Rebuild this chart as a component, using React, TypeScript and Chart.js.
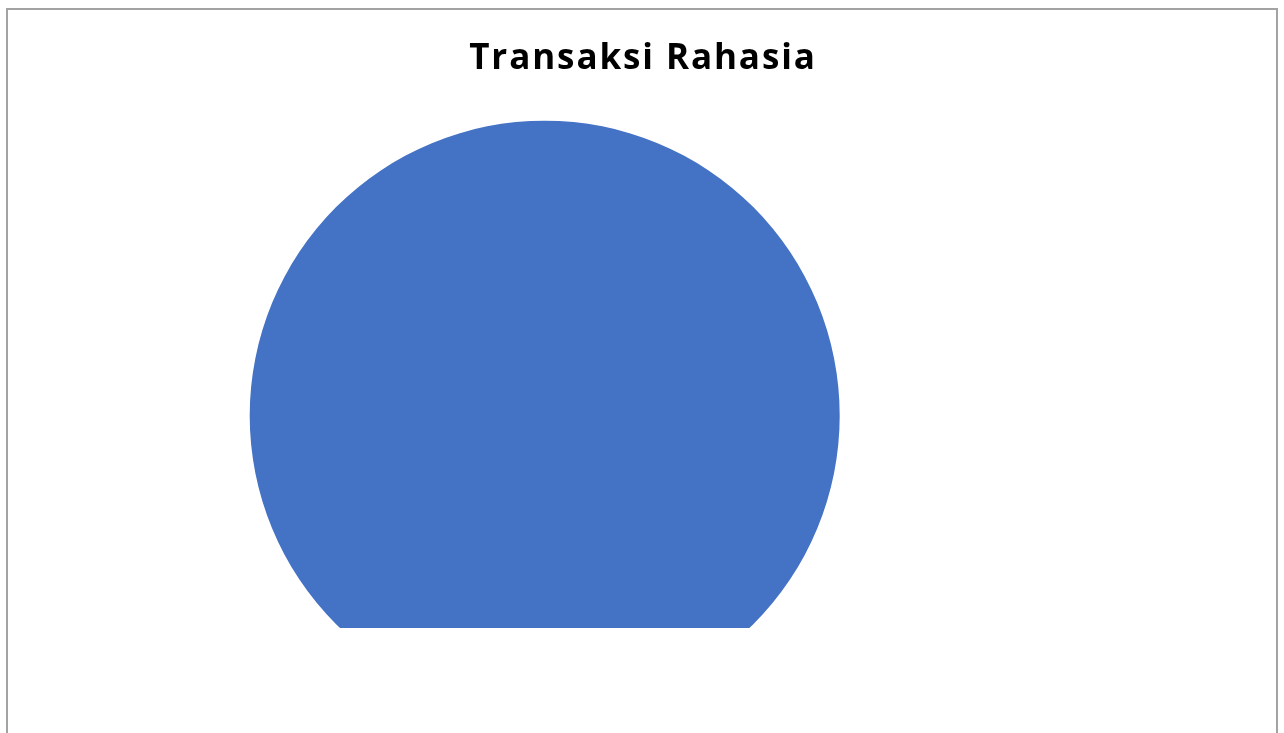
import React, { useEffect, useRef } from "react";
import { Chart, registerables } from "chart.js";

Chart.register(...registerables);

const categories: string[] = ["Transaksi Rahasia"];
const seriesValues: number[] = [100];
const sliceColors: string[] = ["#4472C4"];
const chartTitle = "Transaksi Rahasia";

export default function App() {
  const canvasRef = useRef<HTMLCanvasElement | null>(null);

  useEffect(() => {
    if (!canvasRef.current) return;
    const chart = new Chart(canvasRef.current, {
      type: "pie",
      data: {
        labels: categories,
        datasets: [
          {
            data: seriesValues,
            backgroundColor: sliceColors,
            borderWidth: 0,
          },
        ],
      },
      options: {
        animation: false,
        responsive: false,
        maintainAspectRatio: false,
        layout: {
          padding: { left: 249.7, right: 444.3, top: 120.7, bottom: 22.3 },
        },
        plugins: {
          legend: { display: false },
          title: { display: false },
          tooltip: { enabled: false },
        },
      },
    });
    return () => chart.destroy();
  }, []);

  return (
    <div
      style={{
        position: "fixed",
        left: 0,
        top: 0,
        width: 1284,
        height: 733,
        overflow: "hidden",
        background: "#ffffff",
      }}
    >
      <div
        style={{
          position: "absolute",
          left: 6,
          top: 8,
          width: 1272,
          height: 800,
          boxSizing: "border-box",
          border: "2px solid #a3a3a3",
        }}
      />
      <div
        style={{
          position: "absolute",
          left: 0,
          top: 0,
          width: 1284,
          height: 628,
          overflow: "hidden",
        }}
      >
        <canvas
          ref={canvasRef}
          width={1284}
          height={733}
          style={{ position: "absolute", left: 0, top: 0, width: 1284, height: 733 }}
        />
      </div>
      <div
        style={{
          position: "absolute",
          left: 6,
          top: 32,
          width: 1272,
          textAlign: "center",
          fontFamily: "'Open Sans', sans-serif",
          fontWeight: 700,
          fontSize: 35,
          letterSpacing: 1.9,
          paddingLeft: 2,
          boxSizing: "border-box",
          color: "#000000",
          whiteSpace: "nowrap",
        }}
      >
        {chartTitle}
      </div>
    </div>
  );
}
